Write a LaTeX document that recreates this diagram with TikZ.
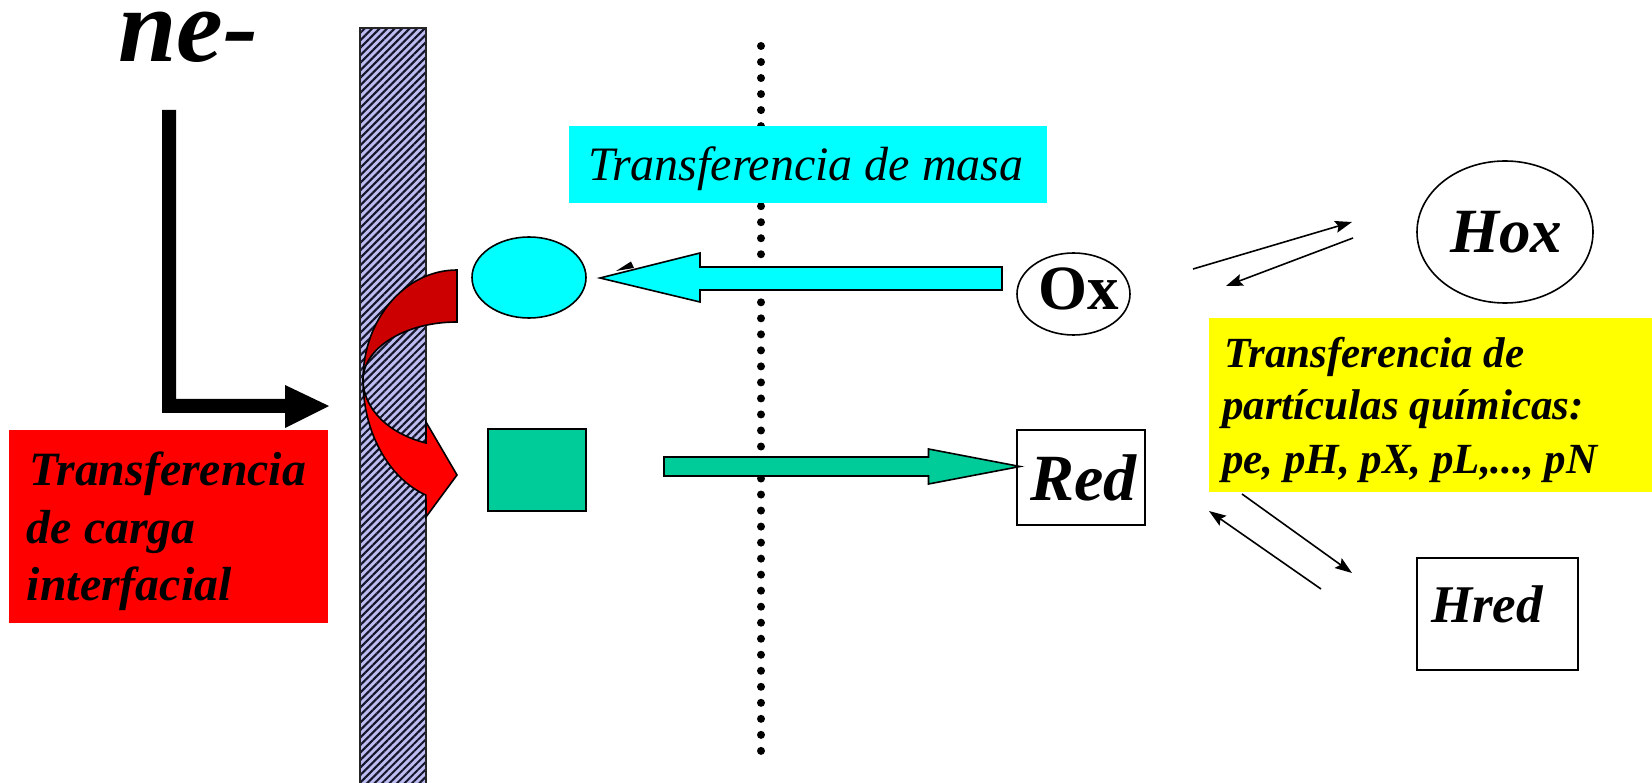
\documentclass[tikz,border=0pt]{standalone}
\usepackage{fontspec}
\setmainfont{Liberation Serif}
\usetikzlibrary{arrows.meta,patterns.meta,shapes.geometric}
\definecolor{cyanc}{HTML}{00FFFF}
\definecolor{greenc}{HTML}{00CC99}
\definecolor{darkredc}{HTML}{CC0000}
\definecolor{redc}{HTML}{FF0000}
\definecolor{yellowc}{HTML}{FFFF00}
\definecolor{electrodec}{HTML}{BCBCF0}
\definecolor{stripec}{HTML}{14142A}
\begin{document}
\begin{tikzpicture}[x=1pt,y=-1pt,
  shapeline/.style={draw=black,line width=1.6pt},
  lbl/.style={inner sep=0pt,outer sep=0pt,anchor=base west},
  boxnode/.style={inner sep=0pt,outer sep=0pt,anchor=north west},
  thinarrow/.style={line width=1.6pt,-{Stealth[length=17pt,width=12pt,inset=3pt]}},
  bi/.style={font=\fontsize{#1}{#1}\selectfont\bfseries\itshape}
]
\useasboundingbox (0,0) rectangle (1652,783);

% electrode
\draw[preaction={fill=electrodec},pattern={Lines[angle=45,distance=5.3pt,line width=2.1pt]},pattern color=stripec,draw=black!85,line width=1.5pt] (360,28) rectangle (426,795);

% dotted boundary
\foreach \i in {0,...,44} \fill (761,{46+\i*16.02}) circle[radius=4];

% curved charge-transfer arrow (bright lower part)
\draw[shapeline,fill=redc] (363,380) arc[start angle=180,end angle=109.3,x radius=94,y radius=122]
  -- (426,517) -- (457,475) -- (426,422) -- (426,443)
  arc[start angle=109.3,end angle=180,x radius=94,y radius=66.7] -- cycle;
% dark upper part
\draw[shapeline,fill=darkredc] (457,270) arc[start angle=270,end angle=180,x radius=94,y radius=110]
  arc[start angle=180,end angle=270,x radius=94,y radius=58] -- cycle;

% ne- label and L arrow
\node[lbl,bi=105] (ne) at (118,62) {ne-};
\fill[black] (162,110) -- (176,110) -- (176,399) -- (285,399) -- (285,385) -- (329,406)
  -- (285,428) -- (285,413) -- (162,413) -- cycle;

% red box: interfacial charge transfer
\node[boxnode,fill=redc,minimum width=319pt,minimum height=193pt] (redbox) at (9,430) {};
\node[lbl,bi=47.8] (rb1) at (29,485) {Transferencia};
\node[lbl,bi=47.8] (rb2) at (27,543) {de carga};
\node[lbl,bi=47.8] (rb3) at (27,600) {interfacial};

% cyan ellipse and green square at the interface
\node[shapeline,fill=cyanc,ellipse,minimum width=114pt,minimum height=81pt,inner sep=0pt] (oxs) at (529,277.5) {};
\node[boxnode,shapeline,fill=greenc,minimum width=98pt,minimum height=82pt] (reds) at (488,429) {};

% mass transfer label
\node[boxnode,fill=cyanc,minimum width=478pt,minimum height=77pt] (mt) at (569,126) {};
\node[lbl,font=\fontsize{48}{48}\selectfont\itshape] (mtt) at (588,181) {Transferencia de masa};

% block arrows
\draw[shapeline,fill=cyanc] (1002,267) -- (700,267) -- (700,253) -- (600,278) -- (700,302) -- (700,290) -- (1002,290) -- cycle;
\fill[black] (616,271) -- (631,261.5) -- (634,268) -- cycle;
\draw[shapeline,fill=greenc] (664,457) -- (928.5,457) -- (928.5,449) -- (1020,466.5) -- (928.5,484) -- (928.5,476) -- (664,476) -- cycle;

% Ox
\node[shapeline,ellipse,minimum width=113pt,minimum height=82pt,inner sep=0pt] (oxE) at (1073.5,294) {};
\node[lbl,font=\fontsize{63}{63}\selectfont\bfseries] (ox) at (1038,310) {Ox};

% Red
\node[boxnode,shapeline,minimum width=128pt,minimum height=95pt] (redB) at (1017,430) {};
\node[lbl,bi=66] (red) at (1030,500) {Red};

% Hox
\node[shapeline,ellipse,minimum width=176pt,minimum height=142pt,inner sep=0pt] (hoxE) at (1505,232) {};
\node[lbl,bi=63] (hox) at (1450,253) {Hox};

% Hred
\node[boxnode,shapeline,minimum width=161pt,minimum height=112pt] (hredB) at (1417,558) {};
\node[lbl,bi=53] (hred) at (1431,622) {Hred};

% yellow box
\node[boxnode,fill=yellowc,minimum width=450pt,minimum height=174pt] (yb) at (1209,318) {};
\node[lbl,bi=43] (yb1) at (1224,368) {Transferencia de};
\node[lbl,bi=43] (yb2) at (1222,420) {partículas químicas:};
\node[lbl,bi=43] (yb3) at (1222,473) {pe, pH, pX, pL,..., pN};

% equilibrium arrows
\coordinate (a1s) at (1193,269); \coordinate (a1e) at (1352,222);
\coordinate (a2s) at (1353,238); \coordinate (a2e) at (1226,286);
\coordinate (a3s) at (1242,494); \coordinate (a3e) at (1352,573);
\coordinate (a4s) at (1321,589); \coordinate (a4e) at (1209,511);
\draw[thinarrow] (a1s) -- (a1e);
\draw[thinarrow] (a2s) -- (a2e);
\draw[thinarrow] (a3s) -- (a3e);
\draw[thinarrow] (a4s) -- (a4e);
\end{tikzpicture}
\end{document}
